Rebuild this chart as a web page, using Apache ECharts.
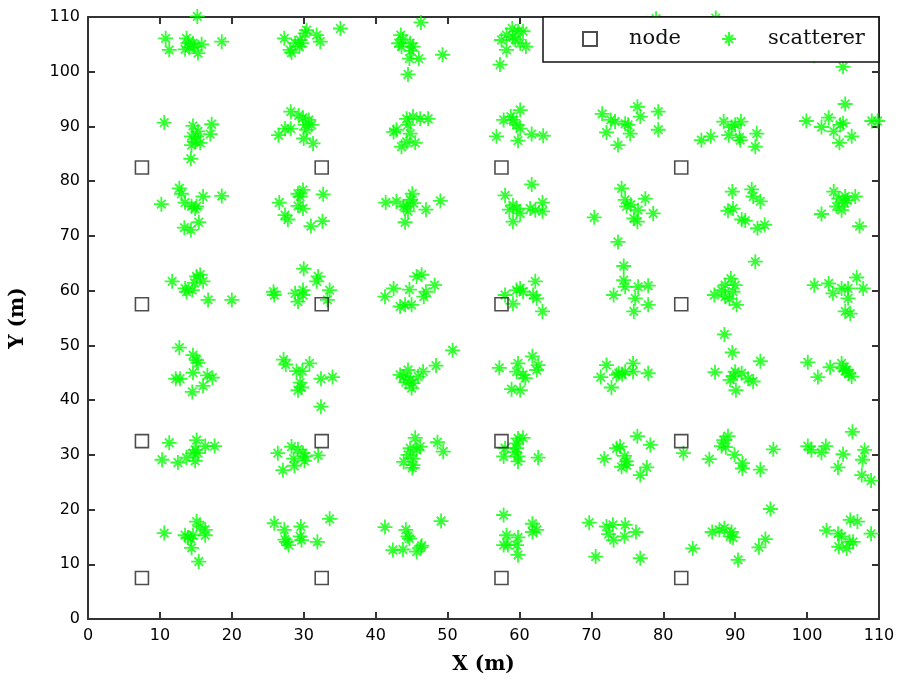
<!DOCTYPE html>
<html>
<head>
<meta charset="utf-8">
<script src="https://cdn.jsdelivr.net/npm/echarts@6/dist/echarts.min.js"></script>
<style>html,body{margin:0;padding:0;background:#fff}#c{width:905px;height:685px}</style>
</head>
<body>
<div id="c"></div>
<script>
// Node grid
var nodeXs = [7.5, 32.5, 57.5, 82.5];
var nodeYs = [7.5, 32.5, 57.5, 82.5];

// Scatterer points grouped by cluster row (approx. y centre)
var scatRow105 = [
  [15.2,110.1],[10.8,106.1],[11.3,104],[13.7,106.1],[13.9,105.2],[13.5,104.1],[14.6,105.2],[15.3,103.4],[15.8,105],[18.6,105.5],[14.1,104.4],[14.8,104.6],
  [27.3,106.1],[28.3,103.5],[28.8,105.2],[29.5,105.8],[30.2,107],[30.4,107.6],[29.7,105.2],[31.8,106.7],[32.3,105.5],[28.1,104],[35.1,107.9],[29.4,104.6],
  [46.3,109],[43.5,106.7],[43.2,105.2],[43.6,104.6],[44.8,105.2],[45.2,104.6],[44.7,102.4],[46,102.4],[44.5,99.5],[49.3,103.1],[44.9,103.8],[43.8,105.9],
  [59,107.9],[58.2,106.7],[57.5,105.8],[60.5,107.4],[60.1,105.2],[60.9,104.6],[58.2,104],[57.3,101.3],[59.1,106.3],[59.4,105.9],[59.8,107.4],
  [79,109.7],[73.5,106],[75.5,104.5],[76.8,107.2],[74.2,103.8],
  [87.3,109.8],[89.5,106.5],[91,104.2],[92.3,107],
  [101,102.9],[105,100.9],[103.5,105],[106,106.8],[104.5,103.5]
];
var scatRow90 = [
  [10.6,90.7],[14.6,90.1],[15.3,89.1],[14.4,88.2],[14.9,87.2],[15.6,87],[17.2,90.4],[17,88.6],[14.3,84.1],[15.1,88.2],[14.4,86.6],
  [28.2,92.7],[29.3,92],[29.9,91.6],[27.4,89.6],[26.5,88.4],[28.2,89.6],[30.2,90.3],[31.1,90.3],[30.4,89.4],[30,87.8],[31.3,86.9],[30.7,91.2],
  [44.3,91.4],[45.2,91.8],[46.2,91.4],[47.3,91.4],[42.9,89.4],[44.5,90.3],[44.8,88.7],[44.3,87.2],[45.5,87],[43.6,86.3],[42.5,89],
  [60.1,93],[57.8,91.2],[59.1,91.2],[59.6,90.3],[60.1,89.6],[56.8,88.2],[59.8,87.4],[61.7,88.6],[63.3,88.3],[58.8,91.8],
  [71.5,92.3],[72.7,91.2],[72.1,88.9],[73.7,86.6],[73.3,90.9],[75.1,90.3],[75.4,88.7],[76.4,93.6],[76.8,91.8],[79.3,92.7],[79.3,89.4],[74.7,90.5],
  [85.3,87.5],[86.6,88.2],[88.4,90.9],[89.1,88.4],[89.5,89.9],[90.8,90.9],[90.7,87.5],[90.6,88],[93,88.7],[92.8,86.3],[90,90.3],
  [99.9,91],[102,89.9],[103,91.6],[103.7,89.1],[104.6,90.3],[105,90.6],[104.5,87],[105.3,94.1],[106.2,88.2],[109,91],[109.8,91]
];
var scatRow75 = [
  [10.2,75.8],[12.7,78.7],[13,77.7],[13.5,76.1],[14.4,75.4],[15.1,75.4],[16,77.2],[18.6,77.3],[13.4,71.5],[14.3,71.1],[15.4,72.5],[14.9,75],
  [26.6,76.1],[27.4,73.8],[27.8,73],[29.2,77.7],[29.9,78.4],[29.2,75.5],[29.9,75],[29.5,77.2],[32.7,77.6],[31,71.8],[32.6,72.7],
  [41.4,76.1],[42.9,76.3],[45.1,77.7],[44.3,75.4],[44.5,74.5],[44.1,72.5],[44.8,76.6],[47,74.8],[49,76.4],[43.9,75.4],[45.3,76],
  [61.7,79.4],[58,77.4],[59.1,75.6],[59.6,75],[60.1,74.1],[59.1,72.6],[61.5,75],[63.2,76.1],[63.2,74.5],[62.2,74.7],[58.6,74.8],
  [70.4,73.4],[74.2,78.7],[74.7,76.6],[74.9,75.4],[76.5,74.7],[75.9,73.2],[76.4,72.6],[77.5,76.8],[78.6,74.1],[73.7,68.9],[75.5,75.7],
  [89.6,78.1],[92.3,78.5],[92.5,77.2],[93.5,76.3],[89,74.6],[89.7,75],[90.9,73],[91.4,72.8],[93.1,71.4],[94.1,72],[92.8,65.3],
  [102,74],[103.7,78.1],[104.4,76.8],[105.3,77.2],[106.7,77.2],[104.1,75.4],[104.8,74.7],[105.2,76],[107.3,71.8],[105.6,76.5]
];
var scatRow60 = [
  [11.7,61.7],[13.5,60.4],[13.7,59.8],[14.5,60.1],[15.1,62.6],[15.6,62.9],[16,61.7],[14.8,61.4],[16.7,58.3],[20,58.3],
  [25.8,59.8],[25.9,59.2],[28.8,59.5],[29.2,58],[29.9,60.1],[29.9,59.2],[30,64],[32,62.6],[31.8,61.7],[33.6,60.1],[33.3,58.3],
  [41.3,58.9],[42.5,60.4],[44.7,60.2],[45.7,62.6],[46.4,62.9],[47,59.8],[46.7,58.9],[48.2,61],[43.4,57.1],[44.1,57.4],[45,57.4],
  [58,59.2],[59.1,57.6],[60.1,60.4],[60.5,59.8],[62.2,61.7],[61.9,59.2],[62.4,58.6],[63.2,56.2],[59.6,60.1],
  [73.1,59.2],[74.5,64.5],[74.5,61.9],[74.7,60.7],[76.5,60.7],[77.9,60.9],[76.1,58.6],[77.9,57.4],[75.9,56.2],
  [87.1,59.2],[88.1,60.1],[88.6,61],[89.4,62.2],[90,61],[89.7,59.8],[88.6,58.9],[90.2,57.4],[89.2,58.5],
  [101,61],[103,61.3],[103.6,59.5],[104.8,60.4],[105.7,60.4],[106.9,62.4],[105.7,58.6],[107.8,60.4],[105.3,56.2],[106,55.8]
];
var scatRow45 = [
  [12.7,49.6],[14.6,48.2],[15.1,47.3],[15.3,46.8],[14.6,45],[12.2,43.9],[12.8,43.9],[16.6,44.5],[17.3,44.1],[16,42.6],[14.5,41.5],
  [27.2,47.4],[27.5,46.5],[29,45.3],[29.8,45.3],[30.8,46.7],[29.5,43.2],[29.7,42.3],[29.2,41.8],[32.4,43.9],[34,44.2],[32.4,38.8],
  [44.5,45.5],[43.9,44.3],[44.8,43.7],[45.2,43.1],[45,42.2],[45.9,44.3],[46.6,45.2],[48.4,46.3],[50.7,49.1],[43.4,44.6],[44.2,43.3],
  [57.2,45.9],[59.8,46.7],[59.6,45.2],[60.5,44.6],[60.8,44],[61.8,48],[62.6,46.4],[62.4,45.5],[58.9,42],[60.1,41.8],
  [72.1,46.4],[71.3,44.2],[72.8,42.3],[73.5,44.6],[73.8,44.9],[74.7,45.2],[75.8,46.7],[75.8,45.2],[77.9,44.9],[74.3,44.7],
  [88.5,52],[89.6,48.7],[87.2,45.1],[89.3,43.7],[90,45.2],[90.9,44.9],[90.1,41.8],[91.8,43.9],[92.5,43.4],[93.5,47.1],[89.8,44.4],
  [100.1,46.9],[101.5,44.2],[103.2,46],[104.8,46.7],[105,45.8],[105.5,45.5],[105.8,44.9],[106.2,44.3],[105.3,45.3]
];
var scatRow30 = [
  [11.3,32.2],[10.3,29.1],[12.5,28.6],[13.7,29.5],[14.6,30.3],[15.1,32.7],[15.3,30.3],[16.3,31.6],[17.6,31.6],[14.9,30.9],[14.9,28.9],
  [26.4,30.3],[28.3,31.5],[29.2,31],[29.9,30.3],[30.2,29.7],[32,29.9],[28.6,29.3],[27.1,27.2],[28.7,28],[30.1,28.9],
  [45.5,33.1],[48.6,32.3],[49.4,30.6],[44.8,31.2],[45.7,30.9],[46.2,31.5],[44.5,30],[45.2,29.3],[43.9,28.7],[45.2,28.1],[45.1,27.6],
  [59.8,33],[60.5,33.1],[59.6,32.1],[58,31.2],[59.6,31.2],[57.8,29.7],[59.8,29.7],[59.8,28.8],[62.6,29.5],[59.3,30.5],
  [73.5,31.2],[71.8,29.3],[74,31.5],[74.6,29.8],[74.9,28.8],[76.4,33.4],[78.2,31.8],[74.9,28.1],[76.8,26.3],[77.7,27.7],[74.2,27.8],
  [82.8,30.3],[86.4,29.2],[88.4,32.7],[89,33.4],[88.1,31.6],[88.7,31.4],[89.9,30],[91,28.5],[95.3,31],[91,27.5],[93.5,27.3],
  [100.1,31.6],[100.6,30.9],[102,30.4],[102.6,31.6],[105,30.1],[106.3,34.2],[108,30.9],[107.7,29.1],[104.3,27.7],[107.6,26.3],[108.9,25.3]
];
var scatRow15 = [
  [10.6,15.7],[15.1,17.8],[13.5,15.3],[14.3,14.7],[14.4,13],[15.6,16.9],[16.3,16.3],[16.3,15.3],[15.4,10.5],[13.9,14.9],[14.6,15.3],
  [25.9,17.5],[27.3,16.3],[27.6,14.1],[27.4,14.5],[29.6,16.9],[29.5,15.1],[29.7,14.4],[31.9,14.1],[33.6,18.3],[27.9,13.5],
  [41.3,16.8],[44.2,16.3],[44.5,15.1],[42.4,12.6],[43.8,12.7],[45.7,12.3],[46.3,13.1],[46.4,13.4],[49.1,17.9],[44.7,14.7],
  [57.8,19],[58.2,15.3],[59.8,14.9],[57.8,13.5],[58.4,13.5],[59.6,13.5],[59.8,11.7],[61.8,17.4],[61.8,15.9],[62.4,16.3],
  [69.7,17.6],[72.1,16.9],[72.4,15.5],[73.1,14.4],[70.6,11.4],[73,17.2],[74.7,17.2],[74.6,15.1],[76.2,15.9],[76.8,11.1],
  [84.1,12.9],[86.8,15.9],[87.8,16.3],[88.5,16.6],[89.5,15.9],[89.3,15.1],[89.7,14.9],[90.4,10.8],[93.3,13.1],[94.2,14.6],[94.9,20.1],
  [102.7,16.2],[104.3,15.6],[104.8,15.1],[104.4,13.2],[105.5,12.9],[106,18.1],[107,17.8],[106.4,14.1],[105.9,14.1],[108.9,15.6]
];

var xTicks = [0,10,20,30,40,50,60,70,80,90,100,110];
var yTicks = [0,10,20,30,40,50,60,70,80,90,100,110];

var nodeData = [];
nodeYs.forEach(function (y) { nodeXs.forEach(function (x) { nodeData.push([x, y]); }); });
var scatData = [].concat(scatRow15, scatRow30, scatRow45, scatRow60, scatRow75, scatRow90, scatRow105);

var starPath = 'path://M7,0L7,14M0,7L14,7M3,3L11,11M3,11L11,3M6,6L8,6L8,8L6,8Z';
var axisCol = '#333';
var tickFont = {fontFamily: 'DejaVu Sans', fontSize: 16, color: '#000'};
var nameFont = {fontFamily: 'DejaVu Serif', fontSize: 20, fontWeight: 'bold', color: '#000'};

function mkAxis(isX, pos, main) {
  return {
    type: 'value', position: pos, min: 0, max: 110, interval: 10,
    axisLine: {show: true, onZero: false, lineStyle: {color: axisCol, width: 2}},
    axisTick: {show: true, inside: true, length: 7, lineStyle: {color: axisCol, width: 2}},
    axisLabel: main ? Object.assign({show: true, margin: isX ? 9 : 8}, tickFont) : {show: false},
    splitLine: {show: false},
    name: main ? (isX ? 'X (m)' : 'Y (m)') : '',
    nameLocation: 'middle',
    nameGap: isX ? 36 : 60,
    nameTextStyle: nameFont
  };
}

var chart = echarts.init(document.getElementById('c'), null, {renderer: 'canvas'});
chart.setOption({
  animation: false,
  backgroundColor: '#fff',
  grid: {left: 88, right: 26, top: 17, bottom: 66, containLabel: false},
  xAxis: [mkAxis(true, 'bottom', true), mkAxis(true, 'top', false)],
  yAxis: [mkAxis(false, 'left', true), mkAxis(false, 'right', false)],
  legend: {
    left: 543, top: 17,
    data: ['node', 'scatterer'],
    itemWidth: 14, itemHeight: 14, itemGap: 40,
    padding: [9, 14, 10, 39],
    backgroundColor: '#fff', borderColor: '#111', borderWidth: 1.5, borderRadius: 0,
    textStyle: {fontFamily: 'DejaVu Serif', fontSize: 21, color: '#111', lineHeight: 26, padding: [0, 0, 0, 27]},
    selectedMode: false
  },
  series: [
    {
      name: 'node', type: 'scatter', data: nodeData, clip: false,
      symbol: 'rect', symbolSize: 13,
      itemStyle: {color: 'rgba(0,0,0,0)', borderColor: '#222', borderWidth: 1.6},
      z: 3
    },
    {
      name: 'scatterer', type: 'scatter', data: scatData, clip: false,
      symbol: starPath, symbolSize: 15,
      itemStyle: {color: 'rgba(0,0,0,0)', borderColor: '#00ff00', borderWidth: 1.8},
      z: 2
    }
  ]
});
</script>
</body>
</html>
